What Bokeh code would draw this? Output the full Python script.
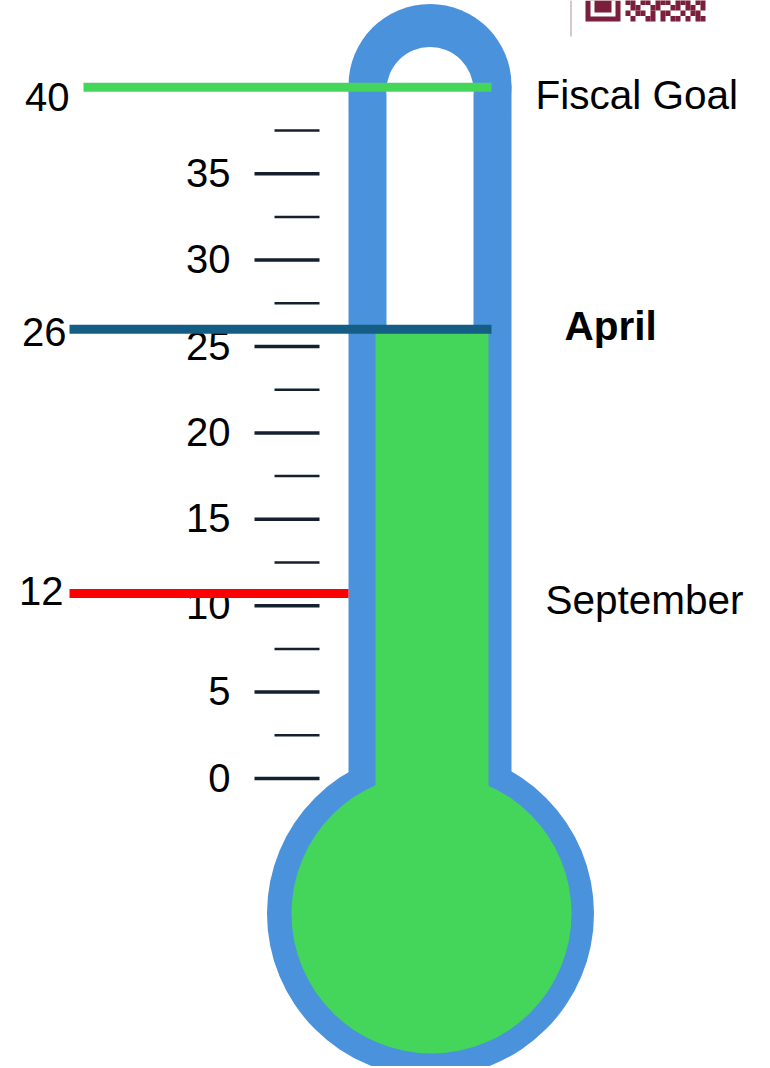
from bokeh.plotting import figure
from bokeh.models import Range1d
from bokeh.core.properties import value
from bokeh.embed import file_html
from bokeh.resources import INLINE

# ---------------- data ----------------
ticks_major = [0, 5, 10, 15, 20, 25, 30, 35]
tick_labels = ["0", "5", "10", "15", "20", "25", "30", "35"]
ticks_minor = [2.5, 7.5, 12.5, 17.5, 22.5, 27.5, 32.5, 37.5]
marker_levels = [40, 26, 10.7]          # where each marker line sits
marker_values = ["40", "26", "12"]      # the number written beside it
marker_names = ["Fiscal Goal", "April", "September"]
fill_level = 26

# ---------------- styling / layout ----------------
BLUE = "#4a92dc"
GREEN = "#44d65b"
NAVY = "#145e85"
RED = "#ff0000"
TICK = "#14202e"
QR = "#7b1f3d"
FONT = value("Liberation Sans")
marker_colors = [GREEN, NAVY, RED]
marker_x0 = [83, 69, 69]
marker_x1 = [491, 491, 348]
num_x = [69, 66, 63]
num_dy = [9.5, 2.5, -3]
name_x = [535, 564, 545]
name_dy = [8, -3, 6]
name_style = ["normal", "bold", "normal"]
TICK_DY = -1

W, H = 766, 1066
PX = 17.28   # pixels per unit
Y0 = 778     # pixel row of value 0


def V(px):
    return (Y0 - px) / PX


p = figure(width=W, height=H, output_backend="svg", toolbar_location=None,
           x_range=Range1d(0, W), y_range=Range1d(V(H), V(0)),
           min_border=0, outline_line_color=None)
p.axis.visible = False
p.grid.visible = False
p.background_fill_color = "white"
p.border_fill_color = "white"

# ---------------- thermometer body ----------------
p.circle(x=[430], y=[V(913)], radius=163.5, fill_color=BLUE, line_color=None)
p.quad(left=[348], right=[511], top=[V(85)], bottom=[V(800)], fill_color=BLUE, line_color=None)
p.circle(x=[429.5], y=[V(85)], radius=81.5, fill_color=BLUE, line_color=None)
p.circle(x=[429.5], y=[V(90)], radius=43.5, fill_color="white", line_color=None)
p.quad(left=[386], right=[473], top=[V(90)], bottom=[V(345)], fill_color="white", line_color=None)
# mercury
p.quad(left=[375], right=[488], top=[fill_level], bottom=[V(800)], fill_color=GREEN, line_color=None)
p.circle(x=[431], y=[V(913)], radius=140, fill_color=GREEN, line_color=None)

# ---------------- scale ----------------
p.segment(x0=[254] * len(ticks_major), x1=[319] * len(ticks_major), y0=ticks_major, y1=ticks_major,
          line_color=TICK, line_width=3.5)
p.segment(x0=[274] * len(ticks_minor), x1=[319] * len(ticks_minor), y0=ticks_minor, y1=ticks_minor,
          line_color=TICK, line_width=2.5)
p.text(x=[230] * len(ticks_major), y=[t - TICK_DY / PX for t in ticks_major], text=tick_labels,
       text_font=FONT, text_font_size="40px", text_align="right", text_baseline="alphabetic",
       text_color="black")

# ---------------- markers ----------------
for i in range(3):
    p.segment(x0=[marker_x0[i]], x1=[marker_x1[i]], y0=[marker_levels[i]], y1=[marker_levels[i]],
              line_color=marker_colors[i], line_width=9)
    p.text(x=[num_x[i]], y=[marker_levels[i] - num_dy[i] / PX], text=[marker_values[i]],
           text_font=FONT, text_font_size="40px", text_align="right", text_baseline="alphabetic",
           text_color="black")
    p.text(x=[name_x[i]], y=[marker_levels[i] - name_dy[i] / PX], text=[marker_names[i]],
           text_font=FONT, text_font_size="40.5px", text_align="left", text_baseline="alphabetic",
           text_font_style=name_style[i], text_color="black")

# ---------------- cropped QR code in the corner ----------------
qr_rows = ["1101101110111011",
           "0110011001101101",
           "1011010110010110",
           "0100110101101011"]
ql, qr_, qt, qb = [], [], [], []
for r, row in enumerate(qr_rows):
    for c, ch in enumerate(row):
        if ch == "1":
            ql.append(625 + 5 * c); qr_.append(630 + 5 * c)
            qt.append(V(-1 + 5.5 * r)); qb.append(V(4.5 + 5.5 * r))
p.quad(left=ql, right=qr_, top=qt, bottom=qb, fill_color=QR, line_color=None)
p.quad(left=[585], right=[620], top=[V(0)], bottom=[V(21)], fill_color=QR, line_color=None)
p.quad(left=[590], right=[615], top=[V(0)], bottom=[V(16)], fill_color="white", line_color=None)
p.quad(left=[594], right=[611], top=[V(0)], bottom=[V(12)], fill_color=QR, line_color=None)
p.segment(x0=[570.5], x1=[570.5], y0=[V(0)], y1=[V(36)], line_color="#b8a4aa", line_width=1.2)

open("out.html", "w").write(file_html(p, INLINE))
